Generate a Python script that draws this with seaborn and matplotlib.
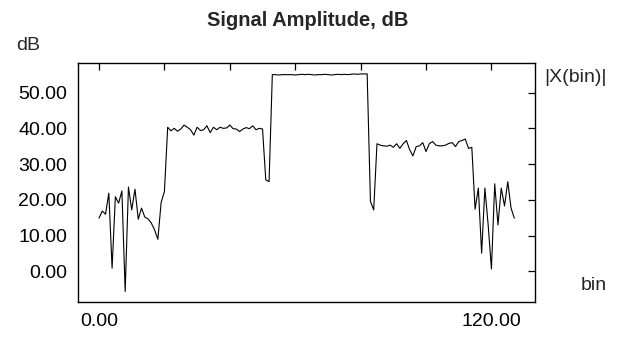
import numpy as np
import pandas as pd
import matplotlib
matplotlib.use("Agg")
import matplotlib.pyplot as plt
import seaborn as sns

# Spectrum magnitude per FFT bin
bins = list(range(128))
amp_db = [
    14.9, 16.9, 16.0, 21.9, 0.9, 20.9, 19.1, 22.5, -5.6, 23.6,
    17.2, 23.0, 14.6, 17.7, 15.2, 14.7, 13.5, 11.6, 9.0, 19.3,
    22.3, 40.3, 39.3, 40.0, 39.2, 39.8, 40.9, 40.3, 39.6, 38.1,
    40.3, 39.4, 39.6, 40.7, 38.8, 40.3, 39.6, 40.3, 40.0, 40.1,
    40.9, 39.9, 39.8, 39.1, 39.8, 40.2, 39.9, 40.7, 39.6, 40.0,
    39.8, 25.6, 25.1, 55.0, 55.0, 54.9, 55.0, 55.0, 55.0, 55.0,
    54.9, 55.0, 55.1, 55.0, 55.1, 55.0, 54.9, 55.0, 55.0, 55.1,
    55.0, 54.9, 55.0, 55.1, 55.0, 55.1, 55.0, 55.1, 55.2, 55.1,
    55.2, 55.2, 55.2, 19.6, 17.2, 35.7, 35.3, 35.1, 35.0, 35.3,
    34.7, 35.7, 34.4, 35.7, 36.6, 34.0, 32.3, 34.9, 35.1, 36.0,
    33.5, 35.7, 36.3, 35.3, 35.1, 35.1, 35.3, 35.8, 36.0, 34.9,
    36.3, 36.6, 37.0, 34.4, 34.7, 17.4, 23.3, 5.1, 23.3, 13.0,
    0.7, 24.5, 13.0, 23.3, 18.3, 25.1, 17.7, 14.9,
]
x_ticks = [0, 20, 40, 60, 80, 100, 120]
x_ticklabels = ["0.00", "", "", "", "", "", "120.00"]
y_ticks = [0, 10, 20, 30, 40, 50]

sns.set_style("white")
plt.rcParams['font.family'] = ['Liberation Sans', 'DejaVu Sans']

df = pd.DataFrame({"bin": bins, "amp": amp_db})

fig = plt.figure(figsize=(6.31, 3.39), dpi=100)
ax = fig.add_axes([0.124, 0.108, 0.724, 0.706])
sns.lineplot(data=df, x="bin", y="amp", ax=ax, color="black", linewidth=0.8)

ax.set_xticks(x_ticks)
ax.set_xticklabels(x_ticklabels)
ax.set_yticks(y_ticks)
ax.set_yticklabels([f"{v:.2f}" for v in y_ticks])
ax.set_xlabel("")
ax.set_ylabel("")
ax.tick_params(direction="in", top=True, right=True, length=5, width=0.9,
               labelsize=14, colors="black")
ax.tick_params(axis="x", pad=8)
ax.tick_params(axis="y", pad=8)
for s in ax.spines.values():
    s.set_color("black")
    s.set_linewidth(1.0)

fig.text(0.487, 1 - 21 / 339, "Signal Amplitude, dB", ha="center", va="center",
         fontsize=14.5, fontweight="bold")
fig.text(16 / 631, 1 - 46 / 339, "dB", ha="left", va="center", fontsize=14)
fig.text(544 / 631, 1 - 77 / 339, "|X(bin)|", ha="left", va="center", fontsize=14)
fig.text(581 / 631, 1 - 286 / 339, "bin", ha="left", va="center", fontsize=14)

fig.savefig("out.png", dpi=100)
